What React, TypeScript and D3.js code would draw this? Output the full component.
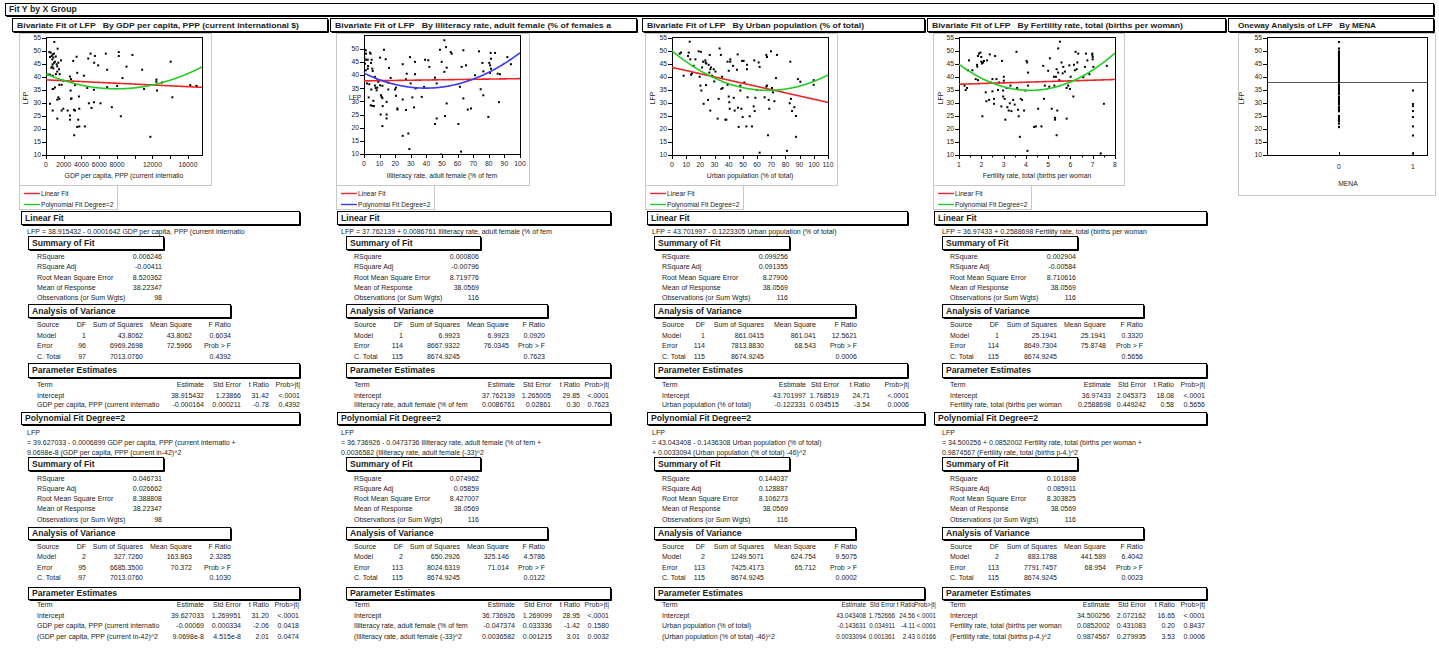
import React from "react";
import * as d3 from "d3";

const FONT = "'Liberation Sans', Arial, Helvetica, sans-serif";
const INK = "#1c1c1c";
const RED = "#ee2424";
const GREEN = "#22cc22";
const BLUE = "#3a3af0";

// ---------------- data: scatter points [x, LFP] ----------------
const GDP_POINTS: [number, number][] = [
  [225, 41], [937, 53.5], [375, 49.6], [525, 49.4], [750, 48.7], [900, 49], [640, 48.1], [450, 47.7], [825, 47.5],
  [1310, 50.9], [710, 46.8], [1010, 45.9], [900, 45.5], [750, 44.9], [1200, 44.9], [1390, 45.5], [1690, 46.4],
  [710, 44], [1270, 44.1], [825, 43.3], [1460, 43], [1270, 42.1], [1120, 41.1], [1540, 41.1], [450, 40.9],
  [750, 40.5], [1950, 38.6], [1500, 37], [1760, 37], [1010, 36], [825, 35.4], [750, 35.4], [450, 29.7],
  [750, 27.1], [1390, 32.2], [1500, 31.6], [1270, 31.3], [1760, 27.1], [1950, 27.8], [1270, 24], [2440, 27.1],
  [2700, 40.2], [2810, 39.2], [3070, 46.2], [3450, 47.8], [3520, 41.6], [2770, 34.8], [2810, 31.6], [2880, 31.8],
  [2700, 25.2], [2700, 23.6], [3150, 27.4], [3260, 27.1], [3710, 32.5], [3750, 27.8], [3630, 23.6], [3520, 20.8],
  [3750, 21], [3180, 17.6], [3260, 36.9], [4270, 40.5], [4380, 21], [4650, 35.8], [4760, 47.1], [5020, 49],
  [5510, 48.1], [5430, 45.5], [5880, 44.5], [4830, 29.9], [5130, 28.1], [5400, 30.3], [5400, 35.1], [6140, 29.9],
  [6740, 49], [6890, 42.8], [6890, 36.1], [7420, 28.4], [8200, 49.6], [8200, 48.1], [8020, 36.6], [8430, 24.9],
  [8620, 39.6], [9070, 44], [9740, 48.5], [10830, 42.8], [11050, 35.4], [11760, 17], [12440, 39], [12440, 38.2],
  [12510, 34.8], [13080, 37.9], [14050, 45.9], [14240, 32.2], [16260, 36.9], [16940, 36.6], [17010, 36.3],
  [600, 43.6], [1100, 47.9],
];

const ILLIT_POINTS: [number, number][] = [
  [0.2, 49.6], [1.1, 49.4], [0.2, 48.5], [1.3, 48.1], [0.2, 46.6], [1.3, 45.8], [2.4, 45.8], [0.6, 44.3], [2.6, 43.4],
  [2.4, 42.4], [1.1, 41.8], [1.9, 36.8], [3.4, 36.5], [3, 31.5], [4.3, 48.1], [3.8, 48.5], [4.9, 45.8], [4.5, 44.6],
  [5.3, 42.4], [5.6, 41.5], [4.7, 34.5], [4.3, 28.5], [5.3, 28.3], [6.4, 28.2], [6, 30.2], [7, 39.3], [7, 36],
  [7.5, 35.1], [8.5, 38], [9.2, 37.4], [8.5, 35.2], [8.1, 34.2], [10.3, 46.6], [10.3, 36.1], [11.8, 35.9],
  [10.9, 32.3], [11.3, 31.7], [11.8, 31.2], [12, 28.2], [10.7, 25], [11.8, 20.6], [12.8, 49.6], [13.9, 46],
  [14.5, 29.8], [14.5, 25], [14.5, 23.5], [15.6, 34.5], [15.6, 37.1], [16, 42.7], [17.1, 38.9], [19.9, 34.5],
  [20.5, 35.2], [20.5, 32.1], [21.4, 27.3], [21.4, 26.9], [24.8, 44.1], [24.8, 30.7], [24.8, 16.9], [26.9, 38.4],
  [26.9, 26.7], [27.4, 40.5], [28.4, 17.8], [29.1, 11.9], [29.5, 46.8], [29.9, 36.8], [31, 31.5], [32.1, 27.7],
  [32.7, 45], [32.7, 40.3], [33.1, 34.9], [37, 31.7], [38.5, 35.5], [39.1, 45.8], [41.2, 45.6], [41.9, 43.1],
  [45.5, 39], [45.5, 21.4], [46.6, 36.8], [46.6, 23.5], [48.7, 49.6], [49.8, 45], [49.4, 9.8], [51.5, 53.2],
  [51.5, 41.2], [52.6, 50.6], [53, 42.8], [51.9, 24.4], [53, 29.2], [55.6, 48.7], [56.2, 48.1], [60.5, 21.4],
  [61.5, 35.5], [62.2, 10.9], [62.6, 43.1], [63.7, 49.4], [63.7, 31.1], [65.4, 43.7], [66.5, 26.9], [68.6, 27.3],
  [71.2, 39.9], [73.7, 49], [74.8, 34.6], [75.9, 44.6], [76.5, 32.3], [76.5, 41.4], [79.7, 24.1], [80.3, 44.6],
  [80.8, 43.7], [80.8, 40.8], [81.2, 48.4], [81.4, 46.2], [81.4, 42.4], [84, 48.4], [85.7, 40.5], [87.2, 40.3],
  [86.5, 29.7], [91.9, 46.8], [94.2, 44.1],
];

const URBAN_POINTS: [number, number][] = [
  [5.4, 49], [6.3, 49.4], [12.5, 53.6], [11.8, 49.4], [11.3, 48.1], [12.9, 46.8], [8.2, 40.5], [13.4, 40.9],
  [14.1, 41.4], [15.3, 44.3], [16.5, 46.8], [18.8, 49.9], [20.4, 49.7], [19.5, 40.1], [20, 36.7], [20.7, 34.8],
  [21.2, 43.7], [21.9, 45.9], [22.3, 29.7], [23.5, 46.4], [23.7, 45.6], [24, 36.9], [24.2, 45.2], [25.9, 44.7],
  [26.3, 41.7], [25.4, 31.2], [26.6, 48.5], [27, 27.1], [27, 43], [27.5, 43.7], [28.2, 40.5], [28.9, 40.1],
  [29.8, 38.3], [29.4, 43], [30.6, 42.1], [32.2, 24], [32.9, 31.6], [33.6, 51], [34.5, 48.5], [34.8, 35.4],
  [35.7, 35.8], [35.3, 40.1], [37.6, 23.6], [38.3, 23.6], [39.2, 37], [39.2, 45.9], [40, 42.4], [41.1, 45.9],
  [41.1, 46.8], [40, 32.5], [40.4, 30.3], [40.7, 27.8], [43, 44.3], [43.5, 32], [44.2, 27.1], [45.8, 42.8],
  [46.3, 48.7], [46.5, 28.2], [47, 20.8], [48.2, 34.8], [48.2, 36.7], [48.9, 27.8], [49.4, 46.2], [50.5, 46.2],
  [49.8, 24.6], [51, 37.9], [52.4, 21], [52.9, 44.7], [52.9, 43], [53.3, 32.2], [54.8, 24.9], [56.4, 21],
  [57.6, 28.7], [58, 46.4], [58.8, 32], [58.3, 26.9], [59.9, 35], [61.1, 45.6], [61.8, 43.9], [61.8, 10.9],
  [65.3, 32.2], [66.5, 36.3], [66.5, 48.5], [67, 47.7], [67, 36.7], [68.2, 31.2], [68.6, 27.8], [67.7, 17.6],
  [69.8, 49.9], [70.5, 35.8], [71.2, 34.1], [72.2, 30.7], [73.3, 39.6], [74, 48.5], [81.1, 11.6], [83, 29.9],
  [83.4, 45.9], [83.9, 31.6], [84.6, 26.9], [86.3, 28.4], [87.4, 25], [87.4, 17], [88.8, 39.2], [90.5, 38.2],
  [99.9, 38.8], [99.9, 37],
];

const FERT_POINTS: [number, number][] = [
  [1.25, 36.7], [1.3, 35], [1.36, 35.8], [1.45, 46.4], [1.4, 42.6], [1.6, 42.6], [1.75, 39.2], [1.81, 44.7],
  [1.82, 44], [1.85, 48.1], [1.9, 49], [1.85, 38.8], [1.96, 49.4], [2, 47.7], [2, 45.9], [2.03, 45.2], [2.08, 45.6],
  [2.12, 46.2], [2.05, 24.9], [2.2, 34.1], [2.23, 30.7], [2.26, 46.4], [2.35, 31.2], [2.38, 48.7], [2.42, 37.9],
  [2.5, 39.2], [2.5, 34.5], [2.57, 31.6], [2.57, 29.7], [2.62, 48.1], [2.68, 39.2], [2.75, 35], [2.8, 37.9],
  [2.9, 28.7], [2.93, 46.2], [2.98, 34.8], [2.98, 32.5], [3.01, 40.1], [3.01, 38.6], [3.05, 31.6], [3.08, 23.6],
  [3.13, 35.8], [3.17, 28.4], [3.23, 27.1], [3.28, 29.9], [3.31, 36.7], [3.35, 26.9], [3.43, 31.2], [3.5, 29.4],
  [3.58, 49.7], [3.61, 35.8], [3.65, 27.4], [3.68, 24.9], [3.73, 17], [3.77, 31.6], [3.83, 31.2], [3.92, 27.1],
  [3.98, 34.8], [4.03, 46.2], [4.06, 45.6], [4.1, 41.7], [4.1, 36.7], [4.07, 11.6], [4.37, 20.8], [4.45, 21],
  [4.55, 27.8], [4.7, 21], [4.78, 44.3], [4.81, 31.6], [4.85, 36.7], [5, 42.4], [5.05, 36.3], [5.08, 47.2],
  [5.16, 27.8], [5.26, 40.1], [5.28, 36.7], [5.31, 24.3], [5.31, 23.6], [5.35, 40.1], [5.38, 43], [5.38, 17.6],
  [5.41, 27.1], [5.45, 51], [5.45, 41.7], [5.5, 38.8], [5.53, 53.6], [5.6, 45.6], [5.65, 41.4], [5.68, 43.9],
  [5.75, 42.1], [5.83, 24], [5.83, 35.8], [5.9, 36.7], [5.95, 44.5], [5.98, 35.4], [6.01, 40.1], [6.13, 32.5],
  [6.16, 44.7], [6.2, 42.6], [6.23, 49.7], [6.28, 43], [6.31, 45.6], [6.35, 49], [6.58, 39.9], [6.65, 43.9],
  [6.7, 49], [6.76, 46.4], [6.85, 41.1], [6.98, 48.5], [6.98, 49], [7, 47.7], [7, 46.8], [7.03, 43.9],
  [7.36, 10.6], [7.5, 29.7], [7.63, 44.3],
];

const MENA0_LFP: number[] = [
  53.5, 51, 49.9, 49.6, 49.4, 49, 48.7, 48.5, 48.1, 47.7, 47.2, 46.8, 46.4, 46.2, 45.9, 45.6, 45.2, 44.7, 44.3,
  43.9, 43.4, 43, 42.6, 42.1, 41.7, 41.4, 41.1, 40.5, 40.1, 39.6, 39.2, 38.8, 38.3, 37.9, 37, 36.7, 36.3, 35.8,
  35.4, 34.8, 34.1, 33.5, 32.5, 32, 31.6, 31.2, 30.7, 30.2, 29.7, 28.7, 28.2, 27.8, 27.4, 26.9, 25, 24.3, 23.6,
  23, 22.1, 20.8,
];
const MENA1_LFP: number[] = [34.8, 29.6, 28.8, 26.9, 24.6, 21, 17.5, 10.6];
const LFP_MEAN = 38.0569;

// ---------------- fit coefficients ----------------
const GDP_LIN = [38.915432, -0.0001642];
const GDP_POLY = [39.627033, -0.0006899, 9.0698e-8, 4142];
const ILLIT_LIN = [37.762139, 0.0086761];
const ILLIT_POLY = [36.736926, -0.0473736, 0.0036582, 33];
const URBAN_LIN = [43.701997, -0.1223305];
const URBAN_POLY = [43.043408, -0.1436308, 0.0033094, 46];
const FERT_LIN = [36.97433, 0.2588698];
const FERT_POLY = [34.500256, 0.0852002, 0.9874567, 4.23];

// ---------------- axis ticks ----------------
const Y_TICKS = [10, 15, 20, 25, 30, 35, 40, 45, 50, 55];
const GDP_TICKS = [0, 2000, 4000, 6000, 8000, 10000, 12000, 14000, 16000];
const GDP_TICK_LABELS = [0, 2000, 4000, 6000, 8000, 12000, 16000];
const ILLIT_TICKS = [0, 10, 20, 30, 40, 50, 60, 70, 80, 90, 100];
const URBAN_TICKS = [0, 10, 20, 30, 40, 50, 60, 70, 80, 90, 100, 110];
const FERT_TICKS = [1, 2, 3, 4, 5, 6, 7, 8];

// ---------------- report texts ----------------
const SUMMARY_LABELS = ["RSquare", "RSquare Adj", "Root Mean Square Error", "Mean of Response", "Observations (or Sum Wgts)"];
const ANOVA_HEAD = ["Source", "DF", "Sum of Squares", "Mean Square", "F Ratio"];
const PE_HEAD = ["Term", "Estimate", "Std Error", "t Ratio", "Prob>|t|"];

const GDP_LIN_EQ = ["= 38.915432 - 0.0001642 GDP per capita, PPP (current internatio"];
const GDP_LIN_SUM = ["0.006246", "-0.00411", "8.520362", "38.22347", "98"];
const GDP_LIN_ANOVA = [["Model", "1", "43.8062", "43.8062", "0.6034"], ["Error", "96", "6969.2698", "72.5966", "Prob > F"], ["C. Total", "97", "7013.0760", "", "0.4392"]];
const GDP_LIN_PE = [["Intercept", "38.915432", "1.23866", "31.42", "<.0001"], ["GDP per capita, PPP (current internatio", "-0.000164", "0.000211", "-0.78", "0.4392"]];
const GDP_POLY_EQ = ["= 39.627033 - 0.0006899 GDP per capita, PPP (current internatio +", "9.0698e-8 (GDP per capita, PPP (current in-42)^2"];
const GDP_POLY_SUM = ["0.046731", "0.026662", "8.388808", "38.22347", "98"];
const GDP_POLY_ANOVA = [["Model", "2", "327.7260", "163.863", "2.3285"], ["Error", "95", "6685.3500", "70.372", "Prob > F"], ["C. Total", "97", "7013.0760", "", "0.1030"]];
const GDP_POLY_PE = [["Intercept", "39.627033", "1.269951", "31.20", "<.0001"], ["GDP per capita, PPP (current internatio", "-0.00069", "0.000334", "-2.06", "0.0418"], ["(GDP per capita, PPP (current in-42)^2", "9.0698e-8", "4.515e-8", "2.01", "0.0474"]];

const ILLIT_LIN_EQ = ["= 37.762139 + 0.0086761 Illiteracy rate, adult female (% of fem"];
const ILLIT_LIN_SUM = ["0.000806", "-0.00796", "8.719776", "38.0569", "116"];
const ILLIT_LIN_ANOVA = [["Model", "1", "6.9923", "6.9923", "0.0920"], ["Error", "114", "8667.9322", "76.0345", "Prob > F"], ["C. Total", "115", "8674.9245", "", "0.7623"]];
const ILLIT_LIN_PE = [["Intercept", "37.762139", "1.265005", "29.85", "<.0001"], ["Illiteracy rate, adult female (% of fem", "0.0086761", "0.02861", "0.30", "0.7623"]];
const ILLIT_POLY_EQ = ["= 36.736926 - 0.0473736 Illiteracy rate, adult female (% of fem +", "0.0036582 (Illiteracy rate, adult female (-33)^2"];
const ILLIT_POLY_SUM = ["0.074962", "0.05859", "8.427007", "38.0569", "116"];
const ILLIT_POLY_ANOVA = [["Model", "2", "650.2926", "325.146", "4.5786"], ["Error", "113", "8024.6319", "71.014", "Prob > F"], ["C. Total", "115", "8674.9245", "", "0.0122"]];
const ILLIT_POLY_PE = [["Intercept", "36.736926", "1.269099", "28.95", "<.0001"], ["Illiteracy rate, adult female (% of fem", "-0.047374", "0.033336", "-1.42", "0.1580"], ["(Illiteracy rate, adult female (-33)^2", "0.0036582", "0.001215", "3.01", "0.0032"]];

const URBAN_LIN_EQ = ["= 43.701997 - 0.1223305 Urban population (% of total)"];
const URBAN_LIN_SUM = ["0.099256", "0.091355", "8.27906", "38.0569", "116"];
const URBAN_LIN_ANOVA = [["Model", "1", "861.0415", "861.041", "12.5621"], ["Error", "114", "7813.8830", "68.543", "Prob > F"], ["C. Total", "115", "8674.9245", "", "0.0006"]];
const URBAN_LIN_PE = [["Intercept", "43.701997", "1.768519", "24.71", "<.0001"], ["Urban population (% of total)", "-0.122331", "0.034515", "-3.54", "0.0006"]];
const URBAN_POLY_EQ = ["= 43.043408 - 0.1436308 Urban population (% of total)", "+ 0.0033094 (Urban population (% of total) -46)^2"];
const URBAN_POLY_SUM = ["0.144037", "0.128887", "8.106273", "38.0569", "116"];
const URBAN_POLY_ANOVA = [["Model", "2", "1249.5071", "624.754", "9.5075"], ["Error", "113", "7425.4173", "65.712", "Prob > F"], ["C. Total", "115", "8674.9245", "", "0.0002"]];
const URBAN_POLY_PE = [["Intercept", "43.043408", "1.752666", "24.56", "<.0001"], ["Urban population (% of total)", "-0.143631", "0.034911", "-4.11", "<.0001"], ["(Urban population (% of total) -46)^2", "0.0033094", "0.001361", "2.43", "0.0166"]];

const FERT_LIN_EQ = ["= 36.97433 + 0.2588698 Fertility rate, total (births per woman"];
const FERT_LIN_SUM = ["0.002904", "-0.00584", "8.710616", "38.0569", "116"];
const FERT_LIN_ANOVA = [["Model", "1", "25.1941", "25.1941", "0.3320"], ["Error", "114", "8649.7304", "75.8748", "Prob > F"], ["C. Total", "115", "8674.9245", "", "0.5656"]];
const FERT_LIN_PE = [["Intercept", "36.97433", "2.045373", "18.08", "<.0001"], ["Fertility rate, total (births per woman", "0.2588698", "0.449242", "0.58", "0.5656"]];
const FERT_POLY_EQ = ["= 34.500256 + 0.0852002 Fertility rate, total (births per woman +", "0.9874567 (Fertility rate, total (births p-4.)^2"];
const FERT_POLY_SUM = ["0.101808", "0.085911", "8.303825", "38.0569", "116"];
const FERT_POLY_ANOVA = [["Model", "2", "883.1788", "441.589", "6.4042"], ["Error", "113", "7791.7457", "68.954", "Prob > F"], ["C. Total", "115", "8674.9245", "", "0.0023"]];
const FERT_POLY_PE = [["Intercept", "34.500256", "2.072162", "16.65", "<.0001"], ["Fertility rate, total (births per woman", "0.0852002", "0.431083", "0.20", "0.8437"], ["(Fertility rate, total (births p-4.)^2", "0.9874567", "0.279935", "3.53", "0.0006"]];

// ---------------- helpers ----------------
const T = ({ x, y, children, a = "start", s = 7, b = false, fill = INK, tl, rot }: any) => (
  <text
    x={x}
    y={y}
    textAnchor={a}
    fontSize={s}
    fontWeight={b ? "bold" : "normal"}
    fontFamily={FONT}
    fill={fill}
    textLength={tl}
    lengthAdjust={tl ? "spacingAndGlyphs" : undefined}
    transform={rot ? `rotate(-90 ${x} ${y})` : undefined}
    style={{ whiteSpace: "pre" }}
  >
    {children}
  </text>
);

const OBox = ({ x0, x1, y0, y1, label, s = 8.6, tx = 4, tl }: any) => (
  <g>
    <rect x={x0 + 0.5} y={y0 + 0.5} width={x1 - x0} height={y1 - y0} fill="#fff" stroke="#000" strokeWidth={1} />
    <line x1={x1 + 1.5} y1={y0 + 1.5} x2={x1 + 1.5} y2={y1 + 1.5} stroke="#000" strokeWidth={1} />
    <line x1={x0 + 1.5} y1={y1 + 1.5} x2={x1 + 1.5} y2={y1 + 1.5} stroke="#000" strokeWidth={1} />
    <T x={x0 + tx} y={(y0 + y1) / 2 + 3.2} b s={s} tl={tl}>
      {label}
    </T>
  </g>
);

const LIN_Y = {
  box: [211, 224], eq: [231], sumBox: [236, 249], sumRows: [256, 266.5, 277, 287.3, 297.5],
  anBox: [304, 317], anRows: [324.5, 335, 345.3, 356], peBox: [363, 377], peRows: [384, 395, 404.7],
};
const POLY_Y = {
  box: [412, 424], eq: [432, 442, 452], sumBox: [457, 470], sumRows: [478, 488.5, 498.5, 508.5, 519],
  anBox: [527, 539], anRows: [546, 556.5, 567, 577.5], peBox: [587, 599], peRows: [604.5, 615.5, 625.7, 636],
};
const BL = 2.5;

function FitReport({ L, P, Y, title, poly, eq, sum, anova, pe }: any) {
  const ps = P.s || 7;
  return (
    <g>
      <OBox x0={L.boxL} x1={P.boxR} y0={Y.box[0]} y1={Y.box[1]} label={title} />
      {poly ? (
        <g>
          <T x={L.eqX} y={Y.eq[0] + BL}>LFP</T>
          {eq.map((e: string, i: number) => (
            <T key={i} x={L.eqX} y={Y.eq[i + 1] + BL}>{e}</T>
          ))}
        </g>
      ) : (
        <g>
          <T x={L.eqX} y={Y.eq[0] + BL}>LFP</T>
          <T x={L.eqX + 15} y={Y.eq[0] + BL}>{eq[0]}</T>
        </g>
      )}
      <OBox x0={L.sumL} x1={L.sumR} y0={Y.sumBox[0]} y1={Y.sumBox[1]} label="Summary of Fit" />
      {SUMMARY_LABELS.map((lab, i) => (
        <g key={lab}>
          <T x={L.labX} y={Y.sumRows[i] + BL}>{lab}</T>
          <T x={L.sumValR} y={Y.sumRows[i] + BL} a="end">{sum[i]}</T>
        </g>
      ))}
      <OBox x0={L.sumL} x1={L.anR} y0={Y.anBox[0]} y1={Y.anBox[1]} label="Analysis of Variance" />
      {[ANOVA_HEAD, ...anova].map((row: string[], i: number) => (
        <g key={i}>
          <T x={L.labX} y={Y.anRows[i] + BL}>{row[0]}</T>
          <T x={L.df} y={Y.anRows[i] + BL} a="end">{row[1]}</T>
          <T x={L.ss} y={Y.anRows[i] + BL} a="end">{row[2]}</T>
          <T x={L.ms} y={Y.anRows[i] + BL} a="end">{row[3]}</T>
          <T x={L.f} y={Y.anRows[i] + BL} a="end">{row[4]}</T>
        </g>
      ))}
      <OBox x0={L.sumL} x1={P.peR} y0={Y.peBox[0]} y1={Y.peBox[1]} label="Parameter Estimates" />
      {[PE_HEAD, ...pe].map((row: string[], i: number) => (
        <g key={i}>
          <T x={L.labX} y={Y.peRows[i] + BL}>{row[0]}</T>
          <T x={P.est} y={Y.peRows[i] + BL} a="end" s={ps}>{row[1]}</T>
          <T x={P.se} y={Y.peRows[i] + BL} a="end" s={ps}>{row[2]}</T>
          <T x={P.t} y={Y.peRows[i] + BL} a="end" s={ps}>{row[3]}</T>
          <T x={P.pr} y={Y.peRows[i] + BL} a="end" s={ps}>{row[4]}</T>
        </g>
      ))}
    </g>
  );
}

const linF = (c: number[]) => (x: number) => c[0] + c[1] * x;
const polyF = (c: number[]) => (x: number) => c[0] + c[1] * x + c[2] * (x - c[3]) * (x - c[3]);

function Scatter({ cfg, idx }: any) {
  const { plot } = cfg;
  const x = d3.scaleLinear().domain(cfg.xDomain).range([plot.x0, plot.x1]);
  const y = d3.scaleLinear().domain(cfg.yDomain).range([plot.y1, plot.y0]);
  const xs = [cfg.xDomain[0], ...x.ticks(200), cfg.xDomain[1]];
  const mk = (f: (v: number) => number) =>
    d3.line<number>().x((d) => x(d)).y((d) => y(f(d)))(xs) || "";
  const clip = `clip${idx}`;
  const midY = (plot.y0 + plot.y1) / 2;
  return (
    <g>
      <defs>
        <clipPath id={clip}>
          <rect x={plot.x0} y={plot.y0} width={plot.x1 - plot.x0} height={plot.y1 - plot.y0} />
        </clipPath>
      </defs>
      <rect x={plot.x0 + 0.5} y={plot.y0 + 0.5} width={plot.x1 - plot.x0} height={plot.y1 - plot.y0} fill="#fff" stroke="#000" strokeWidth={1} />
      {cfg.yTicks.map((t: number) => (
        <g key={"y" + t}>
          <line x1={plot.x0 - 4} x2={plot.x0} y1={Math.round(y(t)) + 0.5} y2={Math.round(y(t)) + 0.5} stroke="#000" />
          <T x={plot.x0 - 5} y={y(t) + 2.4} a="end" s={6.8}>{t}</T>
        </g>
      ))}
      {cfg.xMinor.map((t: number) => (
        <line key={"m" + t} x1={Math.round(x(t)) + 0.5} x2={Math.round(x(t)) + 0.5} y1={plot.y1} y2={plot.y1 + 2.5} stroke="#000" />
      ))}
      {cfg.xTicks.map((t: number) => (
        <line key={"x" + t} x1={Math.round(x(t)) + 0.5} x2={Math.round(x(t)) + 0.5} y1={plot.y1} y2={plot.y1 + 4} stroke="#000" />
      ))}
      {cfg.xLabels.map((t: number) => (
        <T key={"xl" + t} x={x(t)} y={plot.y1 + 11.5} a="middle" s={6.8}>{t}</T>
      ))}
      <T x={(plot.x0 + plot.x1) / 2} y={177.5} a="middle" s={6.8}>{cfg.xTitle}</T>
      {cfg.yRot ? (
        <T x={cfg.yLabX} y={midY + 2} a="middle" s={6.8} rot>LFP</T>
      ) : (
        <T x={cfg.yLabX} y={midY + 5} a="middle" s={6.8}>LFP</T>
      )}
      <g clipPath={`url(#${clip})`}>
        {cfg.points.map((p: [number, number], i: number) => (
          <rect key={i} x={x(p[0]) - 1} y={y(p[1]) - 1} width={2} height={2} fill="#000" />
        ))}
        <path d={mk(linF(cfg.lin))} fill="none" stroke={RED} strokeWidth={1.6} />
        <path d={mk(polyF(cfg.poly))} fill="none" stroke={cfg.polyColor} strokeWidth={1.6} />
      </g>
    </g>
  );
}

const PANELS = [
  {
    header: "Bivariate Fit of LFP   By GDP per capita, PPP (current international $)",
    hdr: [12, 327], hdrTL: 282,
    outer: [19, 211], legend: [19, 117],
    plot: { x0: 46, x1: 202, y0: 37, y1: 155 }, yDomain: [10, 55.4],
    xDomain: [0, 17580], xTicks: GDP_TICKS, xMinor: [], xLabels: GDP_TICK_LABELS, yTicks: Y_TICKS,
    xTitle: "GDP per capita, PPP (current internatio", yRot: true, yLabX: 28,
    points: GDP_POINTS, lin: GDP_LIN, poly: GDP_POLY, polyColor: GREEN,
    L: { boxL: 21, eqX: 27, sumL: 28, sumR: 163, labX: 37, sumValR: 162, anR: 230, df: 86, ss: 143, ms: 192, f: 231 },
    PL: { boxR: 299, peR: 299, est: 204, se: 241, t: 269, pr: 300 },
    PP: { boxR: 299, peR: 299, est: 204, se: 241, t: 269, pr: 299 },
    lin_t: [GDP_LIN_EQ, GDP_LIN_SUM, GDP_LIN_ANOVA, GDP_LIN_PE],
    poly_t: [GDP_POLY_EQ, GDP_POLY_SUM, GDP_POLY_ANOVA, GDP_POLY_PE],
  },
  {
    header: "Bivariate Fit of LFP   By Illiteracy rate, adult female (% of females a",
    hdr: [330, 636], hdrTL: 276,
    outer: [336, 529], legend: [336, 434],
    plot: { x0: 364, x1: 520, y0: 35, y1: 154 }, yDomain: [10, 55.2],
    xDomain: [0, 100], xTicks: ILLIT_TICKS, xMinor: [], xLabels: ILLIT_TICKS, yTicks: Y_TICKS.slice(0, 9),
    xTitle: "Illiteracy rate, adult female (% of fem", yRot: false, yLabX: 355,
    points: ILLIT_POINTS, lin: ILLIT_LIN, poly: ILLIT_POLY, polyColor: BLUE,
    L: { boxL: 337, eqX: 341, sumL: 346, sumR: 480, labX: 354, sumValR: 479, anR: 547, df: 403, ss: 460, ms: 509, f: 545 },
    PL: { boxR: 610, peR: 610, est: 515, se: 551, t: 580, pr: 609 },
    PP: { boxR: 610, peR: 610, est: 515, se: 552, t: 580, pr: 609 },
    lin_t: [ILLIT_LIN_EQ, ILLIT_LIN_SUM, ILLIT_LIN_ANOVA, ILLIT_LIN_PE],
    poly_t: [ILLIT_POLY_EQ, ILLIT_POLY_SUM, ILLIT_POLY_ANOVA, ILLIT_POLY_PE],
  },
  {
    header: "Bivariate Fit of LFP   By Urban population (% of total)",
    hdr: [642, 924], hdrTL: 217,
    outer: [645, 837], legend: [645, 743],
    plot: { x0: 672, x1: 828, y0: 37, y1: 155 }, yDomain: [10, 55.4],
    xDomain: [0, 110], xTicks: URBAN_TICKS, xMinor: [], xLabels: URBAN_TICKS, yTicks: Y_TICKS,
    xTitle: "Urban population (% of total)", yRot: true, yLabX: 655,
    points: URBAN_POINTS, lin: URBAN_LIN, poly: URBAN_POLY, polyColor: GREEN,
    L: { boxL: 647, eqX: 652, sumL: 654, sumR: 789, labX: 662, sumValR: 788, anR: 855, df: 705, ss: 764, ms: 816, f: 857 },
    PL: { boxR: 907, peR: 907, est: 806, se: 839, t: 870, pr: 909 },
    PP: { boxR: 924, peR: 924, est: 866, se: 895, t: 915, pr: 936, s: 6.3 },
    lin_t: [URBAN_LIN_EQ, URBAN_LIN_SUM, URBAN_LIN_ANOVA, URBAN_LIN_PE],
    poly_t: [URBAN_POLY_EQ, URBAN_POLY_SUM, URBAN_POLY_ANOVA, URBAN_POLY_PE],
  },
  {
    header: "Bivariate Fit of LFP   By Fertility rate, total (births per woman)",
    hdr: [927, 1225], hdrTL: 251,
    outer: [933, 1124], legend: [933, 1031],
    plot: { x0: 959, x1: 1115, y0: 37, y1: 155 }, yDomain: [10, 55.4],
    xDomain: [1, 8], xTicks: FERT_TICKS, xMinor: [1.5, 2.5, 3.5, 4.5, 5.5, 6.5, 7.5], xLabels: FERT_TICKS, yTicks: Y_TICKS,
    xTitle: "Fertility rate, total (births per woman", yRot: true, yLabX: 943,
    points: FERT_POINTS, lin: FERT_LIN, poly: FERT_POLY, polyColor: GREEN,
    L: { boxL: 934, eqX: 942, sumL: 942, sumR: 1077, labX: 950, sumValR: 1076, anR: 1143, df: 999, ss: 1057, ms: 1106, f: 1143 },
    PL: { boxR: 1206, peR: 1206, est: 1111, se: 1146, t: 1174, pr: 1205 },
    PP: { boxR: 1206, peR: 1206, est: 1110, se: 1146, t: 1175, pr: 1205 },
    lin_t: [FERT_LIN_EQ, FERT_LIN_SUM, FERT_LIN_ANOVA, FERT_LIN_PE],
    poly_t: [FERT_POLY_EQ, FERT_POLY_SUM, FERT_POLY_ANOVA, FERT_POLY_PE],
  },
];

function Oneway() {
  const plot = { x0: 1267, x1: 1427, y0: 37, y1: 155 };
  const x = d3.scaleLinear().domain([-0.973, 1.19]).range([plot.x0, plot.x1]);
  const y = d3.scaleLinear().domain([10, 55.4]).range([plot.y1, plot.y0]);
  return (
    <g>
      <rect x={1238.5} y={33.5} width={197} height={162} fill="#fff" stroke="#c8c8c8" />
      <rect x={plot.x0 + 0.5} y={plot.y0 + 0.5} width={plot.x1 - plot.x0} height={plot.y1 - plot.y0} fill="#fff" stroke="#000" />
      {Y_TICKS.map((t) => (
        <g key={t}>
          <line x1={plot.x0 - 4} x2={plot.x0} y1={Math.round(y(t)) + 0.5} y2={Math.round(y(t)) + 0.5} stroke="#000" />
          <T x={plot.x0 - 5} y={y(t) + 2.4} a="end" s={6.8}>{t}</T>
        </g>
      ))}
      <line x1={plot.x0} x2={plot.x1} y1={Math.round(y(LFP_MEAN)) + 0.5} y2={Math.round(y(LFP_MEAN)) + 0.5} stroke="#555" strokeWidth={1} />
      {MENA0_LFP.map((v, i) => (
        <rect key={"a" + i} x={x(0) - 1} y={y(v) - 1} width={2} height={2.2} fill="#000" />
      ))}
      {MENA1_LFP.map((v, i) => (
        <rect key={"b" + i} x={x(1) - 1} y={y(v) - 1} width={2} height={2} fill="#000" />
      ))}
      {[0, 1].map((t) => (
        <g key={t}>
          <line x1={Math.round(x(t)) + 0.5} x2={Math.round(x(t)) + 0.5} y1={plot.y1 - 3} y2={plot.y1} stroke="#000" />
          <T x={x(t)} y={168.5} a="middle" s={6.8}>{t}</T>
        </g>
      ))}
      <T x={1348} y={185.5} a="middle" s={6.8}>MENA</T>
      <T x={1244} y={98} a="middle" s={6.8} rot>LFP</T>
    </g>
  );
}

export default function App() {
  return (
    <svg width={1439} height={649} style={{ position: "absolute", left: 0, top: 0 }}>
      <rect width={1439} height={649} fill="#fff" />
      <OBox x0={5} x1={1433} y0={3} y1={15} label="Fit Y by X Group" s={8.7} tx={4} />
      {PANELS.map((p, i) => (
        <g key={i}>
          <OBox x0={p.hdr[0]} x1={p.hdr[1]} y0={18} y1={31} label={p.header} s={7.8} tx={5} tl={p.hdrTL} />
          <rect x={p.outer[0] + 0.5} y={33.5} width={p.outer[1] - p.outer[0]} height={152} fill="#fff" stroke="#c8c8c8" />
          <rect x={p.legend[0] + 0.5} y={185.5} width={p.legend[1] - p.legend[0]} height={24} fill="#fff" stroke="#c8c8c8" />
          <line x1={p.legend[0] + 5} x2={p.legend[0] + 21} y1={193.5} y2={193.5} stroke={RED} strokeWidth={1.4} />
          <T x={p.legend[0] + 22} y={195.8} s={6.6}>Linear Fit</T>
          <line x1={p.legend[0] + 5} x2={p.legend[0] + 21} y1={204.5} y2={204.5} stroke={p.polyColor} strokeWidth={1.4} />
          <T x={p.legend[0] + 22} y={206.8} s={6.6}>Polynomial Fit Degree=2</T>
          <Scatter cfg={p} idx={i} />
          <FitReport L={p.L} P={p.PL} Y={LIN_Y} title="Linear Fit" poly={false}
            eq={p.lin_t[0]} sum={p.lin_t[1]} anova={p.lin_t[2]} pe={p.lin_t[3]} />
          <FitReport L={p.L} P={p.PP} Y={POLY_Y} title="Polynomial Fit Degree=2" poly={true}
            eq={p.poly_t[0]} sum={p.poly_t[1]} anova={p.poly_t[2]} pe={p.poly_t[3]} />
        </g>
      ))}
      <OBox x0={1228} x1={1433} y0={18} y1={31} label="Oneway Analysis of LFP   By MENA" s={7.8} tx={10} tl={138} />
      <Oneway />
    </svg>
  );
}
